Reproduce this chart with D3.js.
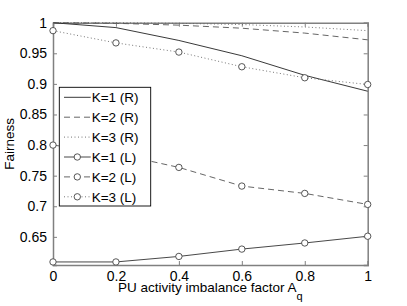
<!DOCTYPE html>
<html>
<head>
<meta charset="utf-8">
<script src="https://cdn.jsdelivr.net/npm/d3@7"></script>
<style>
  body { margin: 0; background: #fff; }
  text { font-family: "Liberation Sans", Arial, sans-serif; fill: #000; }
</style>
</head>
<body>
<div id="chart"></div>
<script>
// data
const xValues = [0, 0.2, 0.4, 0.6, 0.8, 1];
const k1R = [1.0, 0.992, 0.971, 0.946, 0.914, 0.888];
const k2R = [1.0, 0.999, 0.996, 0.991, 0.983, 0.972];
const k3R = [1.0, 1.0, 0.999, 0.997, 0.993, 0.987];
const k1L = [0.609, 0.609, 0.618, 0.630, 0.640, 0.651];
const k2L = [0.800, 0.786, 0.7635, 0.733, 0.721, 0.703];
const k3L = [0.987, 0.967, 0.952, 0.928, 0.910, 0.899];
const seriesNames = ["K=1 (R)", "K=2 (R)", "K=3 (R)", "K=1 (L)", "K=2 (L)", "K=3 (L)"];
const xTicks = [0, 0.2, 0.4, 0.6, 0.8, 1];
const yTicks = [0.65, 0.7, 0.75, 0.8, 0.85, 0.9, 0.95, 1];

const margin = { top: 22.7, right: 39.3, bottom: 41, left: 53 };
const W = 407, H = 306;
const width = W - margin.left - margin.right;
const height = H - margin.top - margin.bottom;

const root = d3.select("#chart").append("svg")
  .attr("width", W).attr("height", H);
const svg = root.append("g")
  .attr("transform", `translate(${margin.left},${margin.top})`);

const x = d3.scaleLinear().domain([0, 1]).range([0, width]);
const y = d3.scaleLinear().domain([0.604, 1]).range([height, 0]);

const styles = [
  { dash: null, color: "#222", marker: false },
  { dash: "6,4", color: "#555", marker: false },
  { dash: "1,2.5", color: "#666", marker: false },
  { dash: null, color: "#333", marker: true },
  { dash: "6,4", color: "#555", marker: true },
  { dash: "1,2.5", color: "#666", marker: true }
];
const series = [k1R, k2R, k3R, k1L, k2L, k3L].map((vals, i) => ({
  name: seriesNames[i],
  style: styles[i],
  values: vals.map((v, j) => ({ x: xValues[j], y: v }))
}));

// box + ticks (MATLAB style, ticks inside on all sides)
const axisColor = "#808080";
svg.append("g")
  .attr("transform", `translate(0,${height})`)
  .call(d3.axisBottom(x).tickValues(xTicks).tickSize(-4).tickPadding(6.5).tickFormat(d3.format("")))
  .call(g => g.select(".domain").attr("stroke", axisColor).attr("stroke-width", 1.5))
  .call(g => g.selectAll(".tick line").attr("stroke", axisColor))
  .call(g => g.selectAll(".tick text").attr("font-size", "14px").attr("dy", "0.71em"));

svg.append("g")
  .call(d3.axisLeft(y).tickValues(yTicks).tickSize(-4).tickPadding(6).tickFormat(d3.format("")))
  .call(g => g.select(".domain").attr("stroke", axisColor).attr("stroke-width", 1.5))
  .call(g => g.selectAll(".tick line").attr("stroke", axisColor))
  .call(g => g.selectAll(".tick text").attr("font-size", "14px"));

svg.append("g")
  .call(d3.axisTop(x).tickValues(xTicks).tickSize(-4).tickFormat(""))
  .call(g => g.select(".domain").attr("stroke", axisColor).attr("stroke-width", 1.5))
  .call(g => g.selectAll(".tick line").attr("stroke", axisColor));

svg.append("g")
  .attr("transform", `translate(${width},0)`)
  .call(d3.axisRight(y).tickValues(yTicks).tickSize(-4).tickFormat(""))
  .call(g => g.select(".domain").attr("stroke", axisColor).attr("stroke-width", 1.5))
  .call(g => g.selectAll(".tick line").attr("stroke", axisColor));

// axis labels
const xl = svg.append("text")
  .attr("x", width / 2)
  .attr("y", height + 27.5)
  .attr("text-anchor", "middle")
  .attr("font-size", "13.5px");
xl.append("tspan").text("PU activity imbalance factor A");
xl.append("tspan").attr("font-size", "11px").attr("dy", 8).text("q");

svg.append("text")
  .attr("transform", `translate(${14 - margin.left},${height / 2}) rotate(-90)`)
  .attr("text-anchor", "middle")
  .attr("font-size", "13.5px")
  .text("Fairness");

// lines
const line = d3.line().x(d => x(d.x)).y(d => y(d.y));

svg.selectAll(".line")
  .data(series)
  .join("path")
  .attr("class", "line")
  .attr("fill", "none")
  .attr("stroke", d => d.style.color)
  .attr("stroke-width", 0.9)
  .attr("stroke-dasharray", d => d.style.dash)
  .attr("d", d => line(d.values));

series.filter(s => s.style.marker).forEach(s => {
  svg.append("g").selectAll("circle")
    .data(s.values)
    .join("circle")
    .attr("cx", d => x(d.x))
    .attr("cy", d => y(d.y))
    .attr("r", 3.2)
    .attr("fill", "#fff")
    .attr("stroke", "#444")
    .attr("stroke-width", 0.9);
});

// legend
const lgX = 59.3 - margin.left, lgY = 87.3 - margin.top;
const lgW = 91.4, lgH = 118.7, rowH = 19.9;
const legend = svg.append("g").attr("transform", `translate(${lgX},${lgY})`);
legend.append("rect")
  .attr("width", lgW).attr("height", lgH)
  .attr("fill", "#fff").attr("stroke", "#000").attr("stroke-width", 0.9);

const rows = legend.selectAll(".row")
  .data(series)
  .join("g")
  .attr("class", "row")
  .attr("transform", (d, i) => `translate(0,${10 + i * rowH})`);

rows.append("line")
  .attr("x1", 4.7).attr("x2", 31.4)
  .attr("stroke", d => d.style.color)
  .attr("stroke-width", 0.9)
  .attr("stroke-dasharray", d => d.style.dash);

rows.filter(d => d.style.marker).append("circle")
  .attr("cx", 18).attr("r", 3.2)
  .attr("fill", "#fff").attr("stroke", "#444").attr("stroke-width", 0.9);

rows.append("text")
  .attr("x", 32.4)
  .attr("dy", "0.35em")
  .attr("font-size", "13.5px")
  .text(d => d.name);
</script>
</body>
</html>
